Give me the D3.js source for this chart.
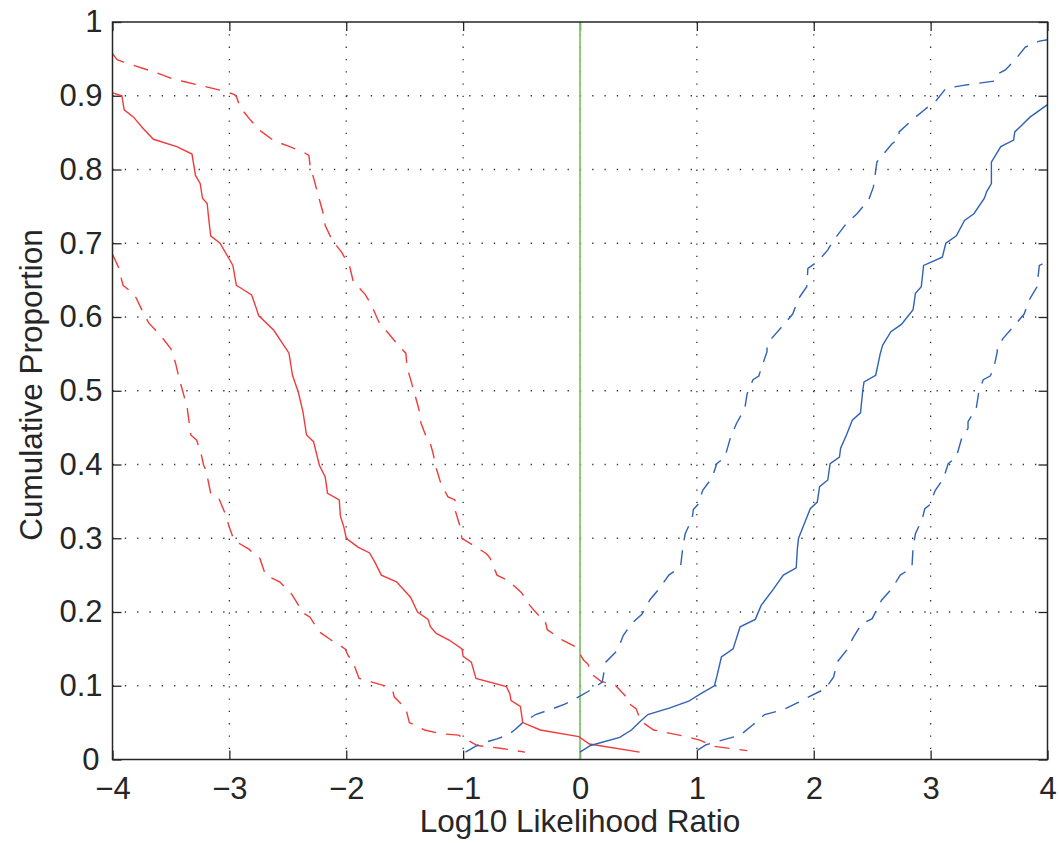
<!DOCTYPE html>
<html>
<head>
    <meta charset="utf-8" />
    <title>Cumulative Proportion vs Log10 Likelihood Ratio</title>
    <script src="https://d3js.org/d3.v7.min.js"></script>
    <style>
        html, body {
            margin: 0;
            padding: 0;
            background-color: #fff;
        }
        svg text {
            font-family: 'Liberation Sans', Arial, sans-serif;
            fill: #262626;
        }
    </style>
</head>
<body>
    <div class="canvas"></div>
    <script>
        // tick values
        var xTicks = [-4, -3, -2, -1, 0, 1, 2, 3, 4];
        var yTicks = [0, 0.1, 0.2, 0.3, 0.4, 0.5, 0.6, 0.7, 0.8, 0.9, 1];
        var xLabel = "Log10 Likelihood Ratio";
        var yLabel = "Cumulative Proportion";

        // red curves as [x, y]
        var redSolid = [[-4.00,0.904],[-3.92,0.900],[-3.90,0.881],[-3.82,0.871],[-3.74,0.856],[-3.65,0.841],[-3.45,0.831],[-3.32,0.821],[-3.29,0.792],[-3.25,0.781],[-3.23,0.761],[-3.19,0.754],[-3.18,0.738],[-3.16,0.710],[-3.08,0.700],[-3.01,0.681],[-2.97,0.670],[-2.94,0.643],[-2.91,0.640],[-2.81,0.630],[-2.77,0.612],[-2.75,0.602],[-2.62,0.582],[-2.49,0.551],[-2.46,0.521],[-2.41,0.498],[-2.37,0.471],[-2.34,0.440],[-2.28,0.431],[-2.23,0.399],[-2.18,0.383],[-2.16,0.361],[-2.06,0.352],[-2.05,0.330],[-2.02,0.315],[-2.00,0.300],[-1.90,0.288],[-1.80,0.280],[-1.75,0.266],[-1.70,0.250],[-1.57,0.241],[-1.45,0.220],[-1.39,0.200],[-1.30,0.190],[-1.28,0.180],[-1.23,0.171],[-1.12,0.162],[-1.01,0.150],[-1.00,0.140],[-0.93,0.132],[-0.89,0.110],[-0.63,0.099],[-0.60,0.089],[-0.59,0.080],[-0.51,0.072],[-0.49,0.050],[-0.34,0.040],[-0.01,0.031],[0.08,0.021],[0.51,0.010]];
        var redDashHi = [[-4.00,0.957],[-3.96,0.949],[-3.91,0.946],[-3.64,0.932],[-3.45,0.921],[-3.38,0.919],[-3.09,0.908],[-2.96,0.902],[-2.94,0.899],[-2.91,0.885],[-2.82,0.867],[-2.74,0.853],[-2.62,0.839],[-2.50,0.832],[-2.36,0.823],[-2.32,0.819],[-2.31,0.806],[-2.27,0.783],[-2.24,0.765],[-2.20,0.742],[-2.18,0.724],[-2.12,0.704],[-2.04,0.688],[-1.97,0.668],[-1.94,0.648],[-1.84,0.631],[-1.79,0.618],[-1.72,0.593],[-1.64,0.578],[-1.54,0.559],[-1.49,0.551],[-1.48,0.532],[-1.44,0.510],[-1.38,0.476],[-1.36,0.456],[-1.31,0.435],[-1.28,0.428],[-1.26,0.417],[-1.23,0.395],[-1.19,0.374],[-1.13,0.356],[-1.07,0.352],[-1.07,0.339],[-1.03,0.318],[-1.01,0.300],[-0.87,0.286],[-0.80,0.279],[-0.77,0.273],[-0.71,0.250],[-0.61,0.242],[-0.50,0.226],[-0.43,0.209],[-0.34,0.193],[-0.30,0.189],[-0.28,0.176],[-0.15,0.162],[-0.04,0.153],[0.03,0.135],[0.07,0.129],[0.09,0.117],[0.18,0.106],[0.30,0.101],[0.40,0.084],[0.40,0.078],[0.48,0.069],[0.52,0.052],[0.63,0.040],[0.91,0.031],[1.03,0.026],[1.14,0.018],[1.43,0.012]];
        var redDashLo = [[-4.00,0.685],[-3.95,0.668],[-3.91,0.643],[-3.81,0.630],[-3.75,0.610],[-3.69,0.592],[-3.59,0.575],[-3.50,0.557],[-3.46,0.537],[-3.43,0.517],[-3.39,0.494],[-3.36,0.476],[-3.33,0.440],[-3.28,0.433],[-3.24,0.413],[-3.22,0.399],[-3.20,0.392],[-3.16,0.361],[-3.09,0.354],[-3.04,0.335],[-3.00,0.315],[-2.96,0.297],[-2.84,0.286],[-2.74,0.273],[-2.69,0.250],[-2.57,0.241],[-2.47,0.225],[-2.40,0.207],[-2.38,0.200],[-2.31,0.193],[-2.23,0.173],[-2.13,0.162],[-2.01,0.150],[-1.98,0.140],[-1.95,0.135],[-1.89,0.110],[-1.78,0.105],[-1.65,0.099],[-1.60,0.092],[-1.59,0.085],[-1.49,0.069],[-1.46,0.050],[-1.33,0.040],[-1.19,0.035],[-1.04,0.033],[-0.98,0.028],[-0.88,0.019],[-0.67,0.015],[-0.47,0.010]];

        // blue curves
        var blueSolid = [[0.00,0.010],[0.09,0.019],[0.34,0.030],[0.44,0.040],[0.51,0.051],[0.58,0.061],[0.77,0.070],[0.93,0.079],[1.03,0.089],[1.15,0.100],[1.17,0.112],[1.21,0.139],[1.31,0.150],[1.37,0.180],[1.50,0.190],[1.55,0.209],[1.65,0.230],[1.74,0.250],[1.85,0.260],[1.86,0.286],[1.87,0.300],[1.92,0.320],[1.97,0.340],[2.03,0.349],[2.05,0.370],[2.12,0.379],[2.14,0.401],[2.22,0.410],[2.23,0.422],[2.28,0.440],[2.33,0.460],[2.40,0.470],[2.42,0.501],[2.43,0.512],[2.53,0.521],[2.57,0.551],[2.59,0.562],[2.66,0.580],[2.75,0.590],[2.85,0.610],[2.87,0.632],[2.92,0.641],[2.94,0.670],[3.10,0.681],[3.13,0.700],[3.22,0.710],[3.29,0.731],[3.37,0.740],[3.46,0.761],[3.48,0.770],[3.52,0.781],[3.52,0.810],[3.60,0.831],[3.71,0.840],[3.72,0.851],[3.78,0.860],[3.85,0.871],[4.00,0.888]];
        var blueDashLo = [[-0.98,0.010],[-0.86,0.021],[-0.71,0.028],[-0.62,0.033],[-0.56,0.040],[-0.49,0.050],[-0.38,0.061],[-0.23,0.069],[-0.13,0.075],[0.00,0.086],[0.11,0.096],[0.19,0.105],[0.22,0.132],[0.32,0.148],[0.37,0.168],[0.44,0.184],[0.53,0.197],[0.60,0.217],[0.68,0.232],[0.76,0.250],[0.86,0.261],[0.88,0.288],[0.90,0.306],[0.96,0.327],[0.97,0.339],[1.01,0.346],[1.05,0.365],[1.13,0.382],[1.17,0.401],[1.24,0.410],[1.29,0.438],[1.34,0.456],[1.41,0.476],[1.43,0.496],[1.48,0.515],[1.53,0.520],[1.55,0.530],[1.60,0.553],[1.60,0.559],[1.64,0.571],[1.74,0.589],[1.82,0.604],[1.87,0.625],[1.94,0.641],[1.95,0.666],[2.04,0.676],[2.12,0.691],[2.17,0.704],[2.28,0.727],[2.37,0.740],[2.47,0.759],[2.51,0.776],[2.54,0.810],[2.58,0.818],[2.67,0.835],[2.73,0.842],[2.73,0.851],[2.84,0.867],[2.94,0.880],[3.05,0.894],[3.13,0.910],[3.28,0.914],[3.41,0.917],[3.55,0.920],[3.58,0.930],[3.64,0.935],[3.73,0.950],[3.81,0.966],[3.93,0.974],[4.00,0.976]];
        var blueDashHi = [[1.00,0.012],[1.08,0.020],[1.23,0.027],[1.37,0.033],[1.48,0.047],[1.58,0.061],[1.73,0.067],[1.85,0.076],[1.97,0.086],[2.10,0.096],[2.17,0.112],[2.20,0.132],[2.28,0.148],[2.34,0.166],[2.41,0.184],[2.50,0.191],[2.58,0.216],[2.67,0.232],[2.74,0.250],[2.84,0.260],[2.85,0.288],[2.87,0.306],[2.93,0.327],[2.95,0.340],[2.99,0.345],[3.04,0.365],[3.11,0.381],[3.15,0.401],[3.22,0.410],[3.27,0.438],[3.32,0.449],[3.32,0.458],[3.39,0.476],[3.41,0.496],[3.45,0.515],[3.51,0.520],[3.54,0.530],[3.57,0.553],[3.57,0.559],[3.62,0.571],[3.72,0.589],[3.80,0.604],[3.85,0.625],[3.91,0.641],[3.93,0.670],[4.00,0.675]];

        // zero line
        var zeroLine = [[0, 0], [0, 1]];

        var width = 1059, height = 843;
        var margin = {left: 112.5, right: 11.5, top: 22, bottom: 83.5};
        var w = width - margin.left - margin.right;
        var h = height - margin.top - margin.bottom;

        var red = "#f23a3a", blue = "#2f62b6", green = "#82c873";
        var axisColor = "#262626";

        var x = d3.scaleLinear().domain([-4, 4]).range([0, w]);
        var y = d3.scaleLinear().domain([0, 1]).range([h, 0]);

        var svg = d3.select(".canvas")
            .append("svg")
            .attr("width", width)
            .attr("height", height);

        var g = svg.append("g")
            .attr("transform", "translate(" + margin.left + "," + margin.top + ")");

        // dotted grid
        g.append("g").selectAll("line")
            .data(xTicks.slice(1, -1))
            .join("line")
            .attr("x1", d => x(d)).attr("x2", d => x(d))
            .attr("y1", 0).attr("y2", h)
            .attr("stroke", "#333")
            .attr("stroke-width", 1.3)
            .attr("stroke-dasharray", "1.3,11");

        g.append("g").selectAll("line")
            .data(yTicks.slice(1, -1))
            .join("line")
            .attr("y1", d => y(d)).attr("y2", d => y(d))
            .attr("x1", 0).attr("x2", w)
            .attr("stroke", "#333")
            .attr("stroke-width", 1.3)
            .attr("stroke-dasharray", "1.3,11");

        // axes, ticks pointing inward (like matlab)
        var xBottom = d3.axisBottom(x).tickValues(xTicks).tickSize(-9).tickPadding(17)
            .tickFormat(d => d < 0 ? "\u2212" + Math.abs(d) : d);
        var xTop = d3.axisTop(x).tickValues(xTicks).tickSize(-9).tickFormat("");
        var yLeft = d3.axisLeft(y).tickValues(yTicks).tickSize(-9).tickPadding(10)
            .tickFormat(d => d);
        var yRight = d3.axisRight(y).tickValues(yTicks).tickSize(-9).tickFormat("");

        function styleAxis(sel) {
            sel.select(".domain").remove();
            sel.selectAll(".tick line").attr("stroke", axisColor).attr("stroke-width", 1.3);
            sel.selectAll(".tick text").attr("font-size", 31).attr("fill", axisColor)
                .style("font-family", "'Liberation Sans', Arial, sans-serif");
        }

        g.append("g").attr("transform", "translate(0," + h + ")").call(xBottom).call(styleAxis);
        g.append("g").call(xTop).call(styleAxis);
        g.append("g").call(yLeft).call(styleAxis);
        g.append("g").attr("transform", "translate(" + w + ",0)").call(yRight).call(styleAxis);

        // corner: nudge the y "0" label a little left so it clears "−4"
        g.selectAll(".tick text").filter(d => d === 0 && this !== null)
            .each(function(d) {
                var t = d3.select(this);
                if (t.attr("x") !== null && +t.attr("x") < 0) t.attr("x", -13);
            });

        // curves
        var line = d3.line().x(d => x(d[0])).y(d => y(d[1]));

        var series = [
            {data: zeroLine, color: green, dash: null, sw: 1.8},
            {data: redSolid, color: red, dash: null, sw: 1.4},
            {data: redDashHi, color: red, dash: "15,10", sw: 1.4},
            {data: redDashLo, color: red, dash: "15,10", sw: 1.4},
            {data: blueSolid, color: blue, dash: null, sw: 1.4},
            {data: blueDashLo, color: blue, dash: "15,10", sw: 1.4},
            {data: blueDashHi, color: blue, dash: "15,10", sw: 1.4}
        ];

        g.append("g").selectAll("path")
            .data(series)
            .join("path")
            .attr("d", d => line(d.data))
            .attr("fill", "none")
            .attr("stroke", d => d.color)
            .attr("stroke-width", d => d.sw)
            .attr("stroke-dasharray", d => d.dash);

        // box
        g.append("rect")
            .attr("width", w).attr("height", h)
            .attr("fill", "none")
            .attr("stroke", axisColor)
            .attr("stroke-width", 1.5);

        // axis labels
        svg.append("text")
            .attr("x", margin.left + w / 2)
            .attr("y", 832)
            .attr("text-anchor", "middle")
            .attr("font-size", 31.5)
            .text(xLabel);

        svg.append("text")
            .attr("transform", "translate(42,385) rotate(-90)")
            .attr("text-anchor", "middle")
            .attr("font-size", 31.5)
            .text(yLabel);
    </script>
</body>
</html>
